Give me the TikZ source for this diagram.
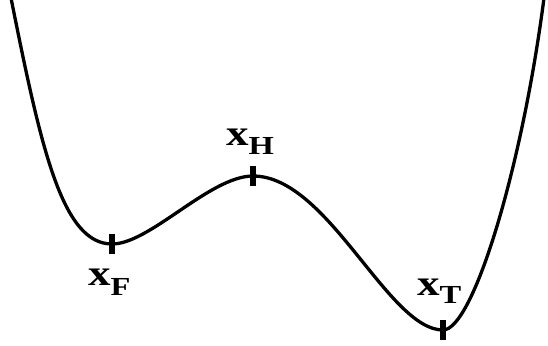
\documentclass[tikz,border=0pt]{standalone}
\usepackage{fontspec}
\setmainfont{Liberation Serif}
\newcommand{\potlabel}[2]{\scalebox{1.25}[1]{\fontsize{36}{36}\selectfont\bfseries x\raisebox{-#2}{\fontsize{26}{26}\selectfont #1}}}
\begin{document}
\begin{tikzpicture}[x=1pt,y=-1pt,
  curve/.style={line width=3.3pt,line join=round},
  tickmark/.style={line width=6pt},
  lbl/.style={inner sep=0pt,anchor=base west}]
\useasboundingbox (0,0) rectangle (548,345);
\coordinate (L) at (11,-2);
\coordinate (F) at (112,244);
\coordinate (H) at (253,176);
\coordinate (T) at (443,330);
\coordinate (R) at (544,-2);
\draw[curve] (L) .. controls (41,148) and (62,244) .. (F)
  .. controls (150,244) and (210,176) .. (H)
  .. controls (328,176) and (388,330) .. (T)
  .. controls (473,330) and (522,168) .. (R);
\draw[tickmark] ([yshift=10pt]F) -- ([yshift=-10pt]F);
\draw[tickmark] ([yshift=10pt]H) -- ([yshift=-10pt]H);
\draw[tickmark] ([yshift=10pt]T) -- ([yshift=-10pt]T);
\node[lbl] (lF) at (88,285) {\potlabel{F}{10pt}};
\node[lbl] (lH) at (226,145) {\potlabel{H}{9pt}};
\node[lbl] (lT) at (417,295) {\potlabel{T}{8pt}};
\end{tikzpicture}
\end{document}
